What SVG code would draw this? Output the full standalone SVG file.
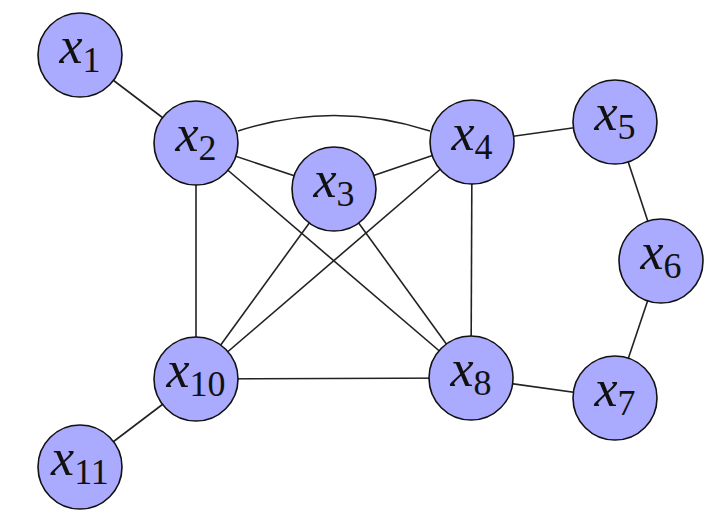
<svg xmlns="http://www.w3.org/2000/svg" width="712" height="520" viewBox="0 0 712 520">
<style>
.e{stroke:#222;stroke-width:1.6;fill:none}
.n{fill:#aaaaff;stroke:#111;stroke-width:1.6}
.t{font-family:"Liberation Serif","DejaVu Serif",serif;font-size:52px;fill:#111;text-anchor:middle}
.i{font-style:italic}
.s{font-size:36px}
</style>
<rect width="712" height="520" fill="#fff"/>
<g id="edges">
<line class="e" x1="80" y1="55" x2="196" y2="143"/>
<path class="e" d="M238,131 Q334,100 430,131"/>
<line class="e" x1="196" y1="143" x2="334" y2="189"/>
<line class="e" x1="334" y1="189" x2="472" y2="142"/>
<line class="e" x1="196" y1="143" x2="196" y2="379"/>
<line class="e" x1="196" y1="143" x2="471" y2="378"/>
<line class="e" x1="334" y1="189" x2="196" y2="379"/>
<line class="e" x1="334" y1="189" x2="471" y2="378"/>
<line class="e" x1="472" y1="142" x2="196" y2="379"/>
<line class="e" x1="472" y1="142" x2="471" y2="378"/>
<line class="e" x1="472" y1="142" x2="615" y2="122"/>
<line class="e" x1="615" y1="122" x2="661" y2="261"/>
<line class="e" x1="661" y1="261" x2="615" y2="398"/>
<line class="e" x1="615" y1="398" x2="471" y2="378"/>
<line class="e" x1="471" y1="378" x2="196" y2="379"/>
<line class="e" x1="196" y1="379" x2="80" y2="467"/>
</g>
<g id="x1"><circle class="n" cx="80" cy="55" r="42"/><text class="t" x="80" y="63"><tspan class="i">x</tspan><tspan class="s" dy="9">1</tspan></text></g>
<g id="x2"><circle class="n" cx="196" cy="143" r="42"/><text class="t" x="196" y="151"><tspan class="i">x</tspan><tspan class="s" dy="9">2</tspan></text></g>
<g id="x3"><circle class="n" cx="334" cy="189" r="42"/><text class="t" x="334" y="197"><tspan class="i">x</tspan><tspan class="s" dy="9">3</tspan></text></g>
<g id="x4"><circle class="n" cx="472" cy="142" r="42"/><text class="t" x="472" y="150"><tspan class="i">x</tspan><tspan class="s" dy="9">4</tspan></text></g>
<g id="x5"><circle class="n" cx="615" cy="122" r="42"/><text class="t" x="615" y="130"><tspan class="i">x</tspan><tspan class="s" dy="9">5</tspan></text></g>
<g id="x6"><circle class="n" cx="661" cy="261" r="42"/><text class="t" x="661" y="269"><tspan class="i">x</tspan><tspan class="s" dy="9">6</tspan></text></g>
<g id="x7"><circle class="n" cx="615" cy="398" r="42"/><text class="t" x="615" y="406"><tspan class="i">x</tspan><tspan class="s" dy="9">7</tspan></text></g>
<g id="x8"><circle class="n" cx="471" cy="378" r="42"/><text class="t" x="471" y="386"><tspan class="i">x</tspan><tspan class="s" dy="9">8</tspan></text></g>
<g id="x10"><circle class="n" cx="196" cy="379" r="42"/><text class="t" x="196" y="387"><tspan class="i">x</tspan><tspan class="s" dy="9">10</tspan></text></g>
<g id="x11"><circle class="n" cx="80" cy="467" r="42"/><text class="t" x="80" y="475"><tspan class="i">x</tspan><tspan class="s" dy="9">11</tspan></text></g>
</svg>
